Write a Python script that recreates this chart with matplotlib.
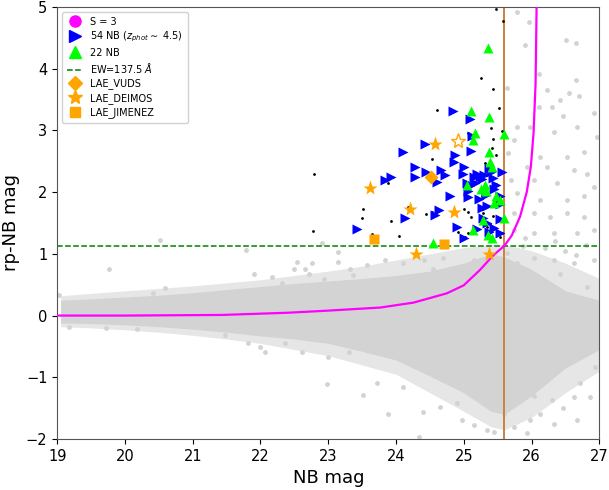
import numpy as np
import matplotlib
matplotlib.use("Agg")
import matplotlib.pyplot as plt
from matplotlib.lines import Line2D

# envelope of the dense grey cloud (all sources)
cloud_x = [19.05, 19.5, 20.0, 20.5, 21.0, 21.5, 22.0, 22.5, 23.0, 23.5, 24.0, 24.5, 25.0, 25.4, 25.6, 26.0, 26.5, 27.0]
cloud_top = [0.25, 0.27, 0.30, 0.33, 0.37, 0.42, 0.47, 0.52, 0.56, 0.60, 0.65, 0.72, 0.85, 1.00, 0.95, 0.75, 0.40, 0.25]
cloud_bot = [-0.12, -0.13, -0.15, -0.18, -0.22, -0.27, -0.33, -0.38, -0.45, -0.58, -0.72, -0.98, -1.25, -1.55, -1.60, -1.30, -0.85, -0.55]
# looser halo of scattered sources around the core
halo_top = [0.32, 0.36, 0.40, 0.44, 0.48, 0.53, 0.58, 0.65, 0.72, 0.80, 0.90, 1.00, 1.10, 1.15, 1.15, 1.05, 0.85, 0.60]
halo_bot = [-0.18, -0.20, -0.23, -0.27, -0.32, -0.38, -0.45, -0.55, -0.65, -0.80, -0.95, -1.25, -1.55, -1.80, -1.85, -1.65, -1.25, -0.90]

# sparse grey outliers
gray_x = [25.78, 25.97, 25.91, 26.51, 26.66, 26.11, 26.66, 25.64, 26.23, 26.55, 26.11, 26.70, 26.42, 26.30,
          26.47, 26.92, 25.79, 25.98, 26.33, 26.67, 26.97, 25.74, 25.66, 26.13, 26.52, 26.77, 25.93, 26.23,
          26.62, 26.82, 25.69, 26.03, 26.38, 26.92, 25.79, 26.13, 26.52, 26.77, 25.74, 26.03, 26.28, 26.52,
          26.77, 25.74, 26.03, 26.33, 26.67, 26.92, 26.20, 26.50, 26.80, 25.90, 26.35, 26.65,
          22.98, 23.51, 23.88, 24.40, 24.34, 24.75, 24.97, 25.15, 25.34, 25.44, 25.74, 25.93, 25.98, 26.13,
          26.33, 26.47, 26.62, 26.72, 26.87, 26.94, 26.67, 25.59, 25.74, 25.51, 26.03, 26.30, 24.90, 24.65,
          24.11, 23.72,
          22.71, 22.93, 23.32, 23.57, 23.84, 24.11, 24.41, 24.55, 24.70, 24.95, 25.15, 25.34, 25.79, 26.03,
          26.33, 26.62, 26.92, 26.42, 26.82, 26.97, 25.64, 25.88,
          20.52, 19.77, 21.79, 21.90, 22.54, 22.76, 22.91, 23.15, 23.15, 23.37, 22.49, 22.65, 19.18, 19.72,
          20.18, 21.82, 21.99, 22.36, 22.61, 23.00, 22.07, 23.30, 21.48, 20.59, 20.42, 22.17, 22.32, 19.02]
gray_y = [4.92, 4.75, 4.39, 4.47, 4.42, 3.92, 3.82, 3.68, 3.65, 3.60, 3.38, 3.55, 3.49, 3.38,
          3.23, 3.28, 3.06, 3.06, 2.98, 3.06, 2.90, 2.84, 2.63, 2.57, 2.57, 2.65, 2.41, 2.41,
          2.36, 2.30, 2.20, 2.20, 2.14, 2.09, 1.98, 1.87, 1.87, 1.93, 1.66, 1.66, 1.60, 1.66,
          1.60, 1.39, 1.33, 1.33, 1.33, 1.39, 1.10, 1.05, 1.15, 1.25, 1.20, 0.98,
          -1.11, -1.29, -1.60, -1.57, -1.96, -1.05, -1.69, -1.77, -1.86, -1.88, -1.80, -1.91, -1.69, -1.59,
          -1.75, -1.50, -1.32, -1.10, -1.32, -0.83, -1.69, -1.59, -1.42, -1.31, -1.31, -1.37, -1.42, -1.48,
          -1.15, -1.10,
          0.68, 0.60, 0.76, 0.82, 0.90, 0.85, 0.90, 0.76, 0.93, 0.79, 0.90, 0.79, 0.85, 0.93,
          0.90, 0.85, 0.90, 0.68, 0.47, -0.02, 1.01, 1.12,
          1.22, 0.76, 1.06, 0.68, 0.87, 0.85, 1.17, 0.87, 1.03, 0.66, 0.76, 0.75, -0.18, -0.20,
          -0.21, -0.45, -0.51, -0.45, -0.59, -0.67, -0.59, -0.59, -0.32, 0.44, 0.36, 0.63, 0.52, 0.33]

# S = 3 curve
s3_x = [19.0, 20.0, 21.43, 22.41, 23.0, 23.77, 24.26, 24.75, 25.0, 25.24, 25.44, 25.60, 25.71, 25.77,
        25.83, 25.88, 25.93, 25.99, 26.03, 26.06, 26.07, 26.075]
s3_y = [0.0, 0.0, 0.01, 0.046, 0.08, 0.13, 0.21, 0.36, 0.49, 0.74, 0.98, 1.13, 1.30, 1.45,
        1.60, 1.80, 2.00, 2.41, 2.95, 3.76, 4.57, 5.0]

# black dots (all NB excess candidates)
blk_x = [25.47, 25.58, 25.25, 25.43, 25.52, 24.61, 25.40, 25.56, 25.43, 25.42, 25.48, 24.53, 22.79, 23.88,
         25.32, 23.52, 23.50, 23.93, 22.77, 24.05, 23.65, 24.45, 25.00, 25.07, 25.10, 25.28, 25.43, 25.31,
         25.34, 25.42, 25.49, 25.56, 25.54, 25.06, 25.02, 25.27, 25.47, 25.07, 25.33, 24.17, 24.53,
         24.92, 25.39, 25.37]
blk_y = [4.97, 4.77, 3.84, 3.67, 3.36, 3.33, 3.03, 2.99, 2.86, 2.71, 2.60, 2.54, 2.30, 2.14,
         2.47, 1.72, 1.58, 1.53, 1.37, 1.29, 1.32, 1.64, 1.72, 1.68, 1.59, 1.66, 1.61, 1.49,
         1.44, 1.39, 1.37, 1.33, 1.27, 1.33, 1.28, 1.93, 2.13, 2.95, 2.41, 1.76, 1.67,
         1.36, 1.49, 1.36]

# 54 NB (z_phot ~ 4.5)
nb54_x = [24.84, 25.09, 25.12, 24.43, 24.10, 24.87, 24.86, 25.11, 24.28, 24.28, 23.92, 23.84, 24.45, 24.66,
          24.73, 24.61, 24.99, 25.19, 25.24, 25.37, 25.40, 25.57, 25.43, 25.05, 25.10, 25.17, 25.27, 25.44,
          25.07, 25.22, 25.07, 25.54, 25.54, 25.27, 25.34, 24.63, 24.58, 24.14, 23.42, 24.90, 25.29, 25.54,
          25.38, 25.54, 25.00, 25.30, 25.47, 25.33, 25.15, 24.80, 25.35, 25.45, 25.20, 25.00]
nb54_y = [3.32, 3.18, 2.91, 2.78, 2.65, 2.60, 2.49, 2.67, 2.41, 2.24, 2.25, 2.20, 2.33, 2.36,
          2.28, 2.16, 2.30, 2.30, 2.25, 2.37, 2.32, 2.33, 2.22, 2.15, 2.11, 2.15, 2.21, 2.05,
          2.02, 1.89, 1.92, 1.93, 1.81, 1.75, 1.77, 1.71, 1.63, 1.58, 1.41, 1.44, 1.58, 1.57,
          1.36, 1.33, 1.25, 2.28, 2.12, 1.95, 2.25, 1.94, 1.50, 1.42, 1.40, 2.40]

# 22 NB
nb22_x = [25.36, 25.11, 25.37, 25.17, 25.14, 25.60, 25.37, 25.39, 25.42, 25.05, 25.32, 25.33,
          25.48, 25.54, 25.60, 25.28, 25.14, 25.41, 24.55, 25.25, 25.45, 25.36]
nb22_y = [4.34, 3.31, 3.22, 2.96, 2.84, 2.94, 2.65, 2.48, 2.41, 2.12, 2.12, 2.01,
          1.93, 1.87, 1.58, 1.55, 1.39, 1.25, 1.18, 2.05, 1.82, 1.30]

# spectroscopic LAEs
vuds_x, vuds_y = [24.52], [2.25]
deimos_x = [24.57, 23.62, 24.21, 24.86, 24.30, 25.38]
deimos_y = [2.78, 2.06, 1.72, 1.67, 1.00, 1.00]
deimos_open_x, deimos_open_y = [24.91], [2.83]
jimenez_x, jimenez_y = [23.67, 24.71], [1.235, 1.155]

ew_cut = 1.13
nb_limit = 25.6

fig = plt.figure(figsize=(6.09, 4.9), dpi=100)
ax = fig.add_axes([0.094, 0.104, 0.89, 0.882])

ax.fill_between(cloud_x, halo_bot, halo_top, color='#e6e6e6', lw=0, zorder=1)
ax.fill_between(cloud_x, cloud_bot, cloud_top, color='lightgray', lw=0, zorder=1)
ax.plot(gray_x, gray_y, 'o', color='lightgray', ms=3.5, mec='none', zorder=1)
ax.plot(s3_x, s3_y, '-', color='magenta', lw=1.6, zorder=3)
ax.axhline(ew_cut, color='green', ls='--', lw=1.1, zorder=2)
ax.axvline(nb_limit, color='#cd7f3f', lw=1.4, zorder=2)
ax.plot(blk_x, blk_y, 'o', color='black', ms=2.0, mec='none', zorder=4)
ax.plot(nb54_x, nb54_y, '>', color='blue', ms=6.5, mec='none', zorder=5)
ax.plot(nb22_x, nb22_y, '^', color='lime', ms=7, mec='none', zorder=5)
ax.plot(vuds_x, vuds_y, 'D', color='orange', ms=7, mec='none', zorder=6)
ax.plot(deimos_x, deimos_y, '*', color='orange', ms=11, mec='none', zorder=6)
ax.plot(deimos_open_x, deimos_open_y, '*', mfc='white', mec='orange', ms=11, mew=1, zorder=6)
ax.plot(jimenez_x, jimenez_y, 's', color='orange', ms=6.5, mec='none', zorder=6)

ax.set_xlim(19, 27)
ax.set_ylim(-2, 5)
ax.set_xticks(range(19, 28))
ax.set_yticks(range(-2, 6))
ax.tick_params(labelsize=10.5)
ax.set_xlabel('NB mag', fontsize=13)
ax.set_ylabel('rp-NB mag', fontsize=13)
for s in ax.spines.values():
    s.set_color('#555555')

handles = [
    Line2D([], [], ls='none', marker='o', color='magenta', ms=8),
    Line2D([], [], ls='none', marker='>', color='blue', ms=8),
    Line2D([], [], ls='none', marker='^', color='lime', ms=8),
    Line2D([], [], ls='--', color='green', lw=1.1),
    Line2D([], [], ls='none', marker='D', color='orange', ms=7),
    Line2D([], [], ls='none', marker='*', color='orange', ms=10),
    Line2D([], [], ls='none', marker='s', color='orange', ms=7),
]
labels = ['S = 3', r'54 NB ($z_{phot}\sim$ 4.5)', '22 NB', r'EW=137.5 $\AA$',
          'LAE_VUDS', 'LAE_DEIMOS', 'LAE_JIMENEZ']
ax.legend(handles, labels, loc='upper left', fontsize=7, handlelength=1.6,
          labelspacing=0.35, borderpad=0.5, framealpha=0.9)

fig.savefig('out.png', dpi=100)
